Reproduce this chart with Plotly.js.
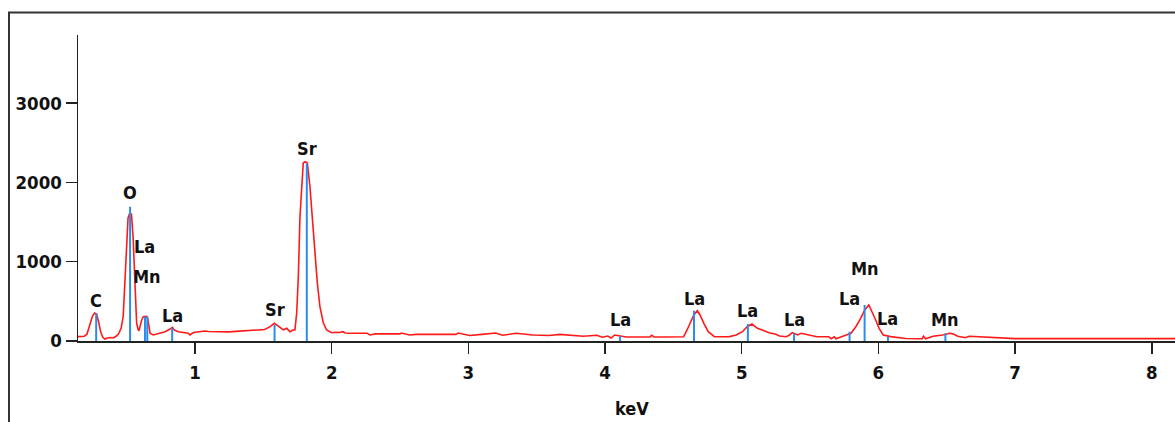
<!DOCTYPE html>
<html>
<head>
<meta charset="utf-8">
<script src="https://cdn.plot.ly/plotly-3.0.1.min.js"></script>
<style>
html,body{margin:0;padding:0;background:#fff;}
#chart{width:1175px;height:422px;}
</style>
</head>
<body>
<div id="chart"></div>
<script>
// Spectrum (energy in keV, counts)
const energy = [0.144,0.16,0.19,0.21,0.23,0.25,0.265,0.28,0.295,0.31,0.325,0.34,0.36,0.38,0.40,0.42,0.44,0.46,0.475,0.49,0.50,0.51,0.52,0.535,0.547,0.555,0.567,0.573,0.585,0.59,0.61,0.622,0.646,0.654,0.664,0.671,0.695,0.732,0.781,0.817,0.834,0.849,0.878,0.951,0.963,0.988,1.073,1.10,1.15,1.20,1.25,1.30,1.35,1.40,1.44,1.47,1.51,1.55,1.58,1.60,1.625,1.646,1.671,1.695,1.72,1.731,1.744,1.756,1.768,1.78,1.792,1.805,1.822,1.841,1.858,1.878,1.895,1.914,1.939,1.963,2.0,2.03,2.06,2.08,2.10,2.13,2.18,2.20,2.26,2.28,2.32,2.40,2.45,2.50,2.51,2.57,2.62,2.70,2.80,2.91,2.925,2.99,3.01,3.10,3.2,3.25,3.35,3.47,3.59,3.67,3.74,3.84,3.94,3.98,4.02,4.045,4.07,4.13,4.155,4.25,4.33,4.34,4.36,4.45,4.52,4.575,4.60,4.625,4.65,4.675,4.695,4.723,4.755,4.80,4.85,4.88,4.91,4.96,5.005,5.04,5.075,5.115,5.15,5.20,5.25,5.276,5.325,5.35,5.37,5.386,5.41,5.435,5.46,5.55,5.63,5.637,5.654,5.678,5.69,5.738,5.765,5.80,5.835,5.87,5.90,5.93,5.955,5.98,6.005,6.035,6.09,6.20,6.30,6.32,6.33,6.345,6.40,6.45,6.47,6.495,6.52,6.545,6.58,6.63,6.64,6.665,7.0,7.5,8.0,8.17];
const counts = [55,55,60,88,189,315,353,340,240,113,50,25,38,44,38,57,88,164,315,933,1273,1550,1600,1600,1314,937,517,223,139,130,265,306,310,286,180,97,76,97,117,151,172,139,117,97,76,107,126,120,118,122,115,122,128,132,135,140,145,181,223,200,170,140,160,117,140,139,353,811,1568,1990,2245,2261,2245,1946,1568,1063,731,433,227,139,105,110,108,117,100,97,97,88,97,76,90,92,88,90,101,76,84,84,84,84,100,80,70,84,100,72,97,76,70,84,76,60,72,47,63,38,76,63,50,50,50,72,50,50,50,54,139,243,328,382,328,223,117,54,50,54,55,76,117,180,214,160,139,105,84,63,54,76,105,97,76,97,88,54,54,54,29,54,29,54,76,97,180,286,391,454,370,265,160,76,55,32,28,28,60,28,60,67,76,84,97,90,60,45,45,60,30,30,30,30,30];

// Identified element lines
const lineEnergy = [0.277,0.525,0.634,0.651,0.833,1.582,1.818,4.11,4.651,5.045,5.383,5.789,5.899,6.07,6.49];
const lineHeight = [349,1693,306,306,168,202,2240,63,382,214,97,117,454,54,97];
const lineLabel  = ['C','O','La','Mn','La','Sr','Sr','La','La','La','La','La','Mn','La','Mn'];
const labelCounts = [517,1869,1189,811,328,400,2429,265,538,391,265,538,916,286,265];

// Axis ticks
const xTicks = [1,2,3,4,5,6,7,8];
const yTicks = [0,1000,2000,3000];

const FONT = '"DejaVu Sans Condensed", "DejaVu Sans", Verdana, sans-serif';

const lx = [], ly = [];
lineEnergy.forEach((e, i) => { lx.push(e, e, null); ly.push(0, lineHeight[i], null); });

const traces = [
  {x: energy, y: counts, type: 'scatter', mode: 'lines',
   line: {color: '#ff1a1a', width: 1.6}, hoverinfo: 'skip'},
  {x: lx, y: ly, type: 'scatter', mode: 'lines',
   line: {color: '#2b8cf0', width: 2}, hoverinfo: 'skip'}
];

const annotations = lineLabel.map((t, i) => ({
  x: lineEnergy[i], y: labelCounts[i], xref: 'x', yref: 'y',
  text: t, showarrow: false, xanchor: 'center', yanchor: 'middle',
  font: {family: FONT, size: 18, color: '#111', weight: 'bold'}
}));
annotations.push({
  x: (632 - 78) / 1097, y: (341 - 408) / 306, xref: 'paper', yref: 'paper',
  text: 'keV', showarrow: false, xanchor: 'center', yanchor: 'middle',
  font: {family: FONT, size: 18, color: '#111', weight: 'bold'}
});

const layout = {
  width: 1175, height: 422,
  margin: {l: 78, r: 0, t: 35, b: 81, pad: 0},
  paper_bgcolor: '#fff', plot_bgcolor: '#fff',
  showlegend: false,
  xaxis: {
    range: [0.144, 8.17], tickvals: xTicks, ticktext: xTicks.map(String),
    showgrid: false, zeroline: false, showline: true, linecolor: '#222', linewidth: 2,
    ticks: 'outside', ticklen: 11, tickwidth: 1.5, tickcolor: '#222',
    ticklabelstandoff: 3,
    tickfont: {family: FONT, size: 18.5, color: '#111', weight: 'bold'},
    fixedrange: true
  },
  yaxis: {
    range: [0, 3860], tickvals: yTicks, ticktext: yTicks.map(String),
    showgrid: false, zeroline: false, showline: true, linecolor: '#222', linewidth: 1.5,
    ticks: 'outside', ticklen: 11, tickwidth: 1.5, tickcolor: '#222',
    tickfont: {family: FONT, size: 18.5, color: '#111', weight: 'bold'},
    fixedrange: true
  },
  shapes: [
    {type: 'rect', xref: 'paper', yref: 'paper',
     x0: (9 - 78) / 1097, x1: (1190 - 78) / 1097,
     y0: (341 - 440) / 306, y1: (341 - 12.5) / 306,
     line: {color: '#333', width: 2}, fillcolor: 'rgba(0,0,0,0)', layer: 'below'}
  ],
  annotations: annotations
};

Plotly.newPlot('chart', traces, layout, {staticPlot: true, displayModeBar: false});
</script>
</body>
</html>
